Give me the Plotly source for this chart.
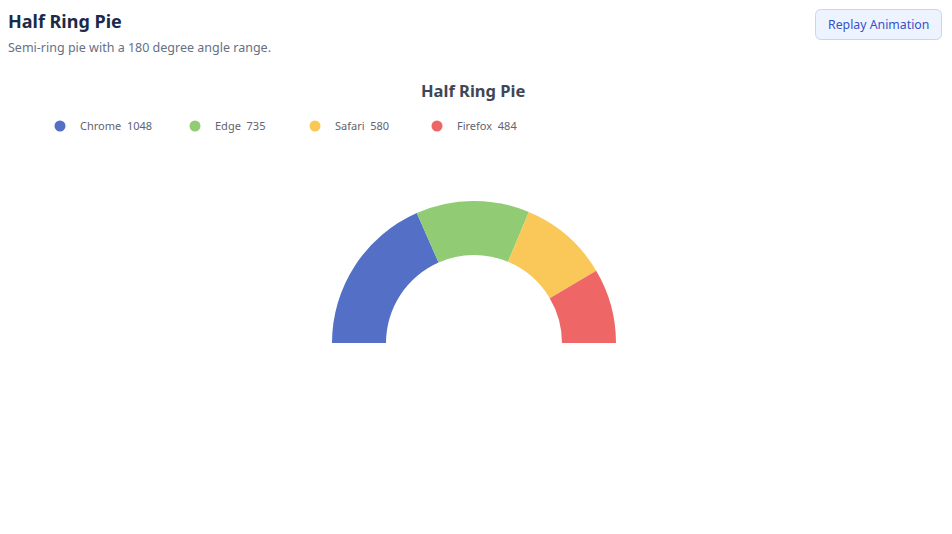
import plotly.graph_objects as go

# ---- data ----
browsers = ["Chrome", "Edge", "Safari", "Firefox"]
visits = [1048, 735, 580, 484]
colors = ["#5470c6", "#91cc75", "#fac858", "#ee6666"]

W, H = 952, 534          # browser window
OFF = 8                  # default body margin of the html page
FW, FH = W - 2 * OFF, H - 2 * OFF
total = sum(visits)

fig = go.Figure()

# half ring: real slices + an invisible filler equal to the total
cx, cy, r_out, r_in = 474, 343, 142, 88   # page pixels
fcx, fcy = cx - OFF, cy - OFF
fig.add_trace(go.Pie(
    labels=browsers + [""],
    values=visits + [total],
    marker=dict(colors=colors + ["rgba(0,0,0,0)"], line=dict(width=0)),
    hole=r_in / r_out,
    sort=False,
    direction="clockwise",
    rotation=270,
    textinfo="none",
    hoverinfo="skip",
    showlegend=False,
    domain=dict(x=[(fcx - r_out) / FW, (fcx + r_out) / FW],
                y=[(FH - fcy - r_out) / FH, (FH - fcy + r_out) / FH]),
))

# legend entries (circle markers), one legend each for exact placement
legend_x = [40, 175, 295, 417]   # page pixels, left edge of each legend
for i, (b, v, c) in enumerate(zip(browsers, visits, colors)):
    lg = "legend" if i == 0 else f"legend{i+1}"
    fig.add_trace(go.Scatter(
        x=[None], y=[None], mode="markers",
        marker=dict(color=c, size=11, symbol="circle"),
        name=f"{b}  {v}",
        legend=lg, showlegend=True,
    ))

legend_common = dict(
    orientation="h", xanchor="left", yanchor="middle",
    bgcolor="rgba(0,0,0,0)", borderwidth=0,
    font=dict(family="Noto Sans", size=11, color="#5f6472"),
    itemwidth=30, tracegroupgap=0,
)
lay_legends = {}
for i, lx in enumerate(legend_x):
    key = "legend" if i == 0 else f"legend{i+1}"
    lay_legends[key] = dict(legend_common, x=(lx - OFF) / FW, y=1 - (126 - OFF) / FH)

# rounded button path (page pixels)
bx0, by0, bx1, by1, rr = 815.5, 9.5, 941.5, 39.5, 6
btn_path = (f"M{bx0+rr},{by0} L{bx1-rr},{by0} Q{bx1},{by0} {bx1},{by0+rr} "
            f"L{bx1},{by1-rr} Q{bx1},{by1} {bx1-rr},{by1} L{bx0+rr},{by1} "
            f"Q{bx0},{by1} {bx0},{by1-rr} L{bx0},{by0+rr} Q{bx0},{by0} {bx0+rr},{by0} Z")

fig.update_layout(
    width=FW, height=FH,
    margin=dict(l=0, r=0, t=0, b=0),
    paper_bgcolor="white", plot_bgcolor="white",
    xaxis=dict(range=[OFF, OFF + FW], visible=False, fixedrange=True, domain=[0, 1]),
    yaxis=dict(range=[OFF + FH, OFF], visible=False, fixedrange=True, domain=[0, 1]),
    shapes=[dict(type="path", path=btn_path, xref="x", yref="y",
                 fillcolor="#eef4ff", line=dict(color="#c5d5f7", width=1), layer="below")],
    annotations=[
        dict(x=-2 / FW, y=1 - (21 - OFF) / FH, xref="paper", yref="paper",
             xanchor="left", yanchor="middle",
             text="<b>Half Ring Pie</b>", showarrow=False,
             font=dict(family="Noto Sans", size=18, color="#1b2a4a")),
        dict(x=-2 / FW, y=1 - (48 - OFF) / FH, xref="paper", yref="paper",
             xanchor="left", yanchor="middle",
             text="Semi-ring pie with a 180 degree angle range.", showarrow=False,
             font=dict(family="Noto Sans", size=12.5, color="#667085")),
        dict(x=878.5, y=24.5, xref="x", yref="y", xanchor="center", yanchor="middle",
             text="Replay Animation", showarrow=False,
             font=dict(family="Noto Sans", size=12.3, color="#3451c9")),
        dict(x=473, y=90, xref="x", yref="y", xanchor="center", yanchor="middle",
             text="<b>Half Ring Pie</b>", showarrow=False,
             font=dict(family="Noto Sans", size=16.5, color="#3f4656")),
    ],
    **lay_legends,
)

fig.write_html("out.html")
